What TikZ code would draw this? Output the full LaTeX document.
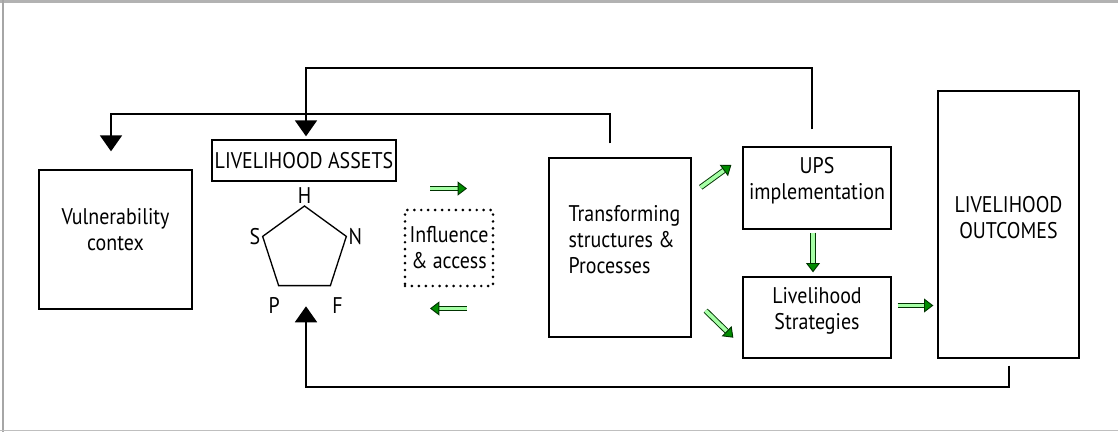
\documentclass[tikz,border=0pt]{standalone}
\usepackage{fontspec}
\setmainfont{PT Sans}[FakeStretch=0.88]
\usetikzlibrary{arrows.meta,calc,positioning,shapes.geometric}
\tikzset{
  box/.style={draw, line width=1pt, inner sep=0pt},
  txt/.style={align=center, inner sep=1pt, font=\fontsize{17}{19.5}\selectfont},
  fb/.style={line width=1.4pt, -{Triangle[length=12pt,width=16.5pt]}},
  garrow/.style={draw=green!20!black, line width=0.7pt, double=green!35!white,
    double distance=2.8pt, -{Triangle[length=7pt,width=10.5pt,fill=green!55!black]}}
}

\begin{document}
\begin{tikzpicture}[x=0.75pt,y=-0.75pt]
    \useasboundingbox (0,0) rectangle (1118,432);

    % draw the frame
    \fill[gray!60] (0,0) rectangle (1118,3);
    \fill[gray!70] (2,0) rectangle (4,432);
    \draw[gray!50] (0,430.5) -- (1118,430.5);

    % draw the boxes
    \node[box, minimum width=114.75pt, minimum height=104.25pt] (vul) at (115.5,239.5) {};
    \node[box, txt, minimum width=138pt, minimum height=30.75pt] (la) at (304,160.5) {LIVELIHOOD ASSETS};
    \node[txt, draw, line width=2.2pt, dash pattern=on 0pt off 5.2pt, line cap=round,
          minimum width=66pt, minimum height=57pt] (inf) at (449,248) {Influence\\\& access};
    \node[box, minimum width=106.5pt, minimum height=134.25pt] (tsp) at (620,247.5) {};
    \node[box, minimum width=111pt, minimum height=61.5pt] (ups) at (817,188) {};
    \node[box, minimum width=111pt, minimum height=60.75pt] (ls) at (817,317.5) {};
    \node[box, minimum width=105.75pt, minimum height=200.25pt] (lo) at (1008.5,224.5) {};

    % label the boxes
    \node[txt, yshift=7.5pt] (vultext) at (vul) {Vulnerability\\contex};
    \node[txt, align=left, anchor=west, xshift=14pt, yshift=5.6pt] (tsptext) at (tsp.west) {Transforming\\structures \&\\Processes};
    \node[txt, yshift=5.2pt] (upstext) at (ups) {UPS\\implementation};
    \node[txt, yshift=4.9pt] (lstext) at (ls) {Livelihood\\Strategies};
    \node[txt, yshift=4.9pt] (lotext) at (lo) {LIVELIHOOD\\OUTCOMES};

    % draw the asset pentagon
    \node[draw, line width=1pt, regular polygon, regular polygon sides=5, minimum size=66pt,
          inner sep=0pt] (pent) at (304.5,250) {};
    \node[txt, above=0pt of pent.corner 1] (h) {H};
    \node[txt, left=0pt of pent.corner 2] (s) {S};
    \node[txt, below=7pt of pent.corner 3, xshift=-3pt] (p) {P};
    \node[txt, below=7pt of pent.corner 4, xshift=5pt] (f) {F};
    \node[txt, right=0pt of pent.corner 5] (n) {N};

    % draw the feedback lines
    \draw[fb] ($(tsp.north)+(-10,-14)$) -- ++(0,-29) -| ($(vul.north)+(-4.5,-18)$);
    \draw[fb] ($(ups.north)+(-5,-17)$) -- ++(0,-61) -| ($(la.north)+(2,-3)$);
    \draw[fb] ($(lo.south)+(0.5,7)$) -- ++(0,21) -| ($(pent.south)+(1.5,20)$);

    % draw the green arrows
    \draw[garrow] ($(inf.north)+(-19,-20)$) -- ($(inf.north)+(18,-20)$);
    \draw[garrow] ($(inf.south)+(18,21)$) -- ($(inf.south)+(-19,21)$);
    \draw[garrow] ($(tsp.north east)+(9,30)$) -- ($(ups.west)+(-11,-23)$);
    \draw[garrow] ($(tsp.south east)+(14,-27)$) -- ($(ls.south west)+(-9,-21)$);
    \draw[garrow] ($(ups.south)+(-4,3)$) -- ($(ls.north)+(-4,-4)$);
    \draw[garrow] ($(ls.east)+(6,-12)$) -- ($(ls.east -| lo.west)+(-4,-12)$);
\end{tikzpicture}
\end{document}
